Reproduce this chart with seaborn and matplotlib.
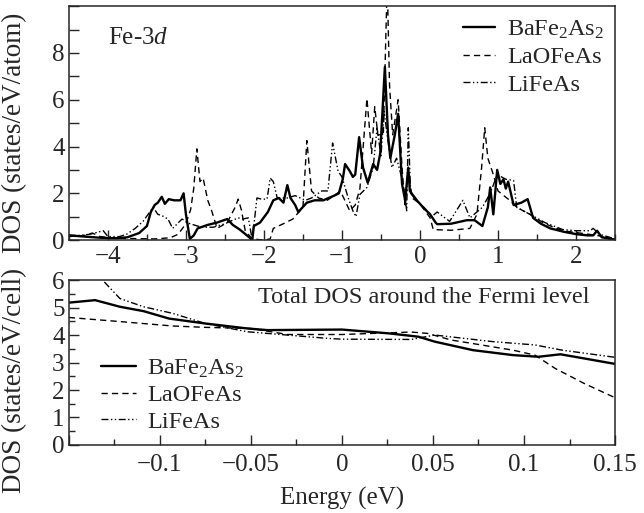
import numpy as np
import pandas as pd
import seaborn as sns
import matplotlib.pyplot as plt
from matplotlib.ticker import MultipleLocator, FuncFormatter

# Fe-3d partial DOS (top panel), energies in eV
ba_e = [-4.5, -4.3, -4.1, -3.9, -3.75, -3.6, -3.5, -3.45, -3.4, -3.36, -3.31, -3.27, -3.22, -3.15,
        -3.07, -3.03, -3.0, -2.95, -2.9, -2.85, -2.72, -2.6, -2.47, -2.4, -2.31, -2.2, -2.15, -2.13,
        -2.05, -1.95, -1.88, -1.81, -1.75, -1.7, -1.66, -1.6, -1.56, -1.45, -1.35, -1.24, -1.1, -1.04,
        -0.99, -0.96, -0.9, -0.86, -0.83, -0.78, -0.73, -0.67, -0.6, -0.55, -0.51, -0.45, -0.41, -0.38,
        -0.32, -0.28, -0.23, -0.19, -0.15, -0.13, -0.04, 0.04, 0.13, 0.2, 0.22, 0.4, 0.6, 0.7, 0.8,
        0.87, 0.9, 0.94, 0.99, 1.03, 1.07, 1.1, 1.13, 1.2, 1.3, 1.38, 1.45, 1.55, 1.67, 1.85, 2.01,
        2.15, 2.22, 2.27, 2.33, 2.5]
ba_dos = [0.2, 0.15, 0.1, 0.08, 0.12, 0.3, 0.6, 1.2, 1.5, 1.6, 1.85, 1.55, 1.75, 1.7,
          1.7, 2.0, 1.1, 0.05, 0.2, 0.5, 0.65, 0.75, 0.9, 0.65, 0.45, 0.15, 0.0, 0.6,
          0.75, 1.2, 1.7, 1.8, 1.6, 2.35, 1.8, 1.5, 1.2, 1.6, 1.7, 1.7, 1.9, 2.0,
          2.6, 3.25, 2.95, 2.7, 2.8, 4.4, 3.1, 2.45, 3.25, 3.0, 3.7, 7.4, 4.5, 3.5,
          4.55, 5.4, 2.4, 1.7, 3.1, 2.1, 1.7, 1.4, 1.1, 0.75, 0.68, 0.7, 0.85, 0.85, 0.6,
          1.4, 2.25, 1.1, 3.0, 2.4, 2.6, 2.2, 2.5, 1.5, 1.6, 1.75, 0.95, 0.7, 0.5, 0.35, 0.25,
          0.2, 0.2, 0.4, 0.12, 0.02]

la_e = [-4.5, -4.3, -4.2, -4.1, -3.9, -3.6, -3.4, -3.2, -3.1, -3.0, -2.94, -2.9, -2.86, -2.82,
        -2.78, -2.72, -2.67, -2.6, -2.47, -2.37, -2.33, -2.29, -2.24, -2.15, -2.0, -1.92, -1.88,
        -1.75, -1.63, -1.5, -1.45, -1.39, -1.3, -1.19, -1.1, -1.02, -0.9, -0.83, -0.77, -0.68,
        -0.62, -0.58, -0.54, -0.47, -0.42, -0.39, -0.35, -0.28, -0.23, -0.19, -0.15, -0.1, 0.0,
        0.13, 0.17, 0.4, 0.64, 0.73, 0.79, 0.83, 0.87, 0.94, 1.0, 1.15, 1.24, 1.41, 1.6, 1.83,
        2.05, 2.27, 2.5]
la_dos = [0.15, 0.2, 0.3, 0.15, 0.08, 0.06, 0.05, 0.1, 0.25, 0.7, 1.3, 2.2, 3.9, 2.5,
          2.65, 1.7, 1.25, 0.5, 0.75, 1.4, 1.75, 1.3, 0.4, 0.05, 0.0, 0.05, 0.5,
          0.7, 0.9, 1.4, 4.25, 2.1, 1.8, 1.7, 1.9, 2.1, 1.25, 1.5, 2.2, 6.05,
          3.7, 5.7, 4.5, 4.5, 11.0, 6.6, 4.5, 6.0, 3.1, 1.4, 2.95, 1.8, 1.55,
          0.95, 0.45, 0.42, 0.5, 1.1, 3.1, 4.8, 3.5, 2.8, 2.1, 1.7, 1.4, 1.1, 0.7, 0.4,
          0.3, 0.2, 0.02]

li_e = [-4.5, -4.35, -4.23, -4.06, -4.0, -3.85, -3.76, -3.65, -3.55, -3.42, -3.36, -3.31, -3.23,
        -3.17, -3.05, -2.95, -2.8, -2.65, -2.5, -2.4, -2.33, -2.27, -2.2, -2.15, -2.09, -2.03,
        -1.96, -1.92, -1.88, -1.83, -1.7, -1.6, -1.47, -1.39, -1.26, -1.18, -1.12, -1.05, -1.0,
        -0.92, -0.86, -0.82, -0.77, -0.68, -0.6, -0.55, -0.5, -0.46, -0.41, -0.36, -0.3, -0.22,
        -0.17, -0.15, -0.12, -0.05, 0.05, 0.15, 0.22, 0.38, 0.55, 0.64, 0.8, 0.9, 0.99, 1.1,
        1.2, 1.24, 1.41, 1.6, 1.83, 2.0, 2.18, 2.22, 2.3, 2.5]
li_dos = [0.2, 0.2, 0.25, 0.4, 0.15, 0.15, 0.25, 0.5, 0.8, 1.4, 1.1, 1.05, 0.9,
          0.5, 0.9, 0.7, 0.55, 0.55, 0.7, 0.85, 0.95, 0.9, 0.95, 0.0, 1.8, 1.75,
          1.75, 2.65, 2.5, 1.8, 1.8, 1.9, 1.7, 1.8, 2.1, 2.1, 4.15, 2.95, 2.7,
          1.8, 1.25, 1.0, 1.95, 2.25, 3.1, 4.8, 3.6, 5.5, 4.25, 3.1, 3.5, 2.5,
          1.25, 4.8, 2.0, 1.7, 1.4, 1.0, 1.2, 0.8, 1.7, 0.95, 1.4, 2.0, 2.8, 2.6,
          2.55, 1.4, 1.1, 0.75, 0.45, 0.4, 0.4, 0.5, 0.25, 0.05]

# total DOS near the Fermi level (bottom panel)
ba_tot_e = [-0.15, -0.1356, -0.122, -0.109, -0.095, -0.075, -0.052, -0.041, 0.0, 0.026, 0.042,
            0.051, 0.072, 0.094, 0.108, 0.12, 0.133, 0.15]
ba_tot = [5.18, 5.27, 5.03, 4.87, 4.6, 4.42, 4.24, 4.18, 4.2, 4.06, 3.94,
          3.76, 3.45, 3.27, 3.21, 3.3, 3.15, 2.95]
la_tot_e = [-0.15, -0.12, -0.093, -0.075, -0.05, -0.03, 0.0, 0.038, 0.047, 0.06, 0.094, 0.106,
            0.117, 0.133, 0.15]
la_tot = [4.64, 4.48, 4.33, 4.28, 4.24, 4.02, 4.02, 4.11, 4.06, 3.82, 3.45, 3.27,
          2.79, 2.24, 1.72]
li_tot_e = [-0.15, -0.14, -0.1315, -0.122, -0.109, -0.093, -0.075, -0.052, -0.03, -0.008, 0.0,
            0.038, 0.051, 0.083, 0.106, 0.121, 0.15]
li_tot = [7.3, 6.6, 6.0, 5.33, 5.03, 4.79, 4.42, 4.12, 4.0, 3.88, 3.85,
          3.84, 4.0, 3.76, 3.64, 3.45, 3.19]

labels = ["BaFe$_2$As$_2$", "LaOFeAs", "LiFeAs"]

sns.set_style("ticks")
plt.rcParams["font.family"] = ["Liberation Serif", "DejaVu Serif"]
plt.rcParams["mathtext.fontset"] = "custom"
plt.rcParams["mathtext.rm"] = "Liberation Serif"
plt.rcParams["mathtext.it"] = "Liberation Serif:italic"
plt.rcParams["axes.linewidth"] = 1.1
fs = 17.5

styles = [dict(linewidth=1.7, linestyle="-"),
          dict(linewidth=1.0, linestyle=(0, (4.5, 3))),
          dict(linewidth=1.0, linestyle=(0, (5, 1.8, 1, 1.8, 1, 1.8)))]

fig = plt.figure(figsize=(6.44, 5.13), dpi=100)
ax1 = fig.add_axes([0.107, 0.532, 0.848, 0.456])
ax2 = fig.add_axes([0.107, 0.1326, 0.848, 0.3214])

top = [(ba_e, ba_dos), (la_e, la_dos), (li_e, li_dos)]
for (e, d), lab, st in zip(top, labels, styles):
    df = pd.DataFrame({"E": e, "DOS": d})
    sns.lineplot(data=df, x="E", y="DOS", ax=ax1, color="black", label=lab,
                 estimator=None, **st)

bot = [(ba_tot_e, ba_tot), (la_tot_e, la_tot), (li_tot_e, li_tot)]
for (e, d), lab, st in zip(bot, labels, styles):
    df = pd.DataFrame({"E": e, "DOS": d})
    sns.lineplot(data=df, x="E", y="DOS", ax=ax2, color="black", label=lab,
                 estimator=None, **st)

ax1.set_xlim(-4.5, 2.5)
ax1.set_ylim(0, 10)
ax1.xaxis.set_major_locator(MultipleLocator(1))
ax1.xaxis.set_minor_locator(MultipleLocator(0.5))
ax1.yaxis.set_minor_locator(MultipleLocator(1))
ax1.set_yticks([0, 2, 4, 6, 8])
ax1.set_xlabel("")
ax1.set_ylabel("DOS (states/eV/atom)", fontsize=19.5)
ax1.yaxis.set_label_coords(-0.077, 0.46)
ax1.text(-4.0, 8.64, "Fe-3$d$", fontsize=18, ha="left", va="center")
ax1.legend(loc="center left", bbox_to_anchor=(0.722, 0.782), frameon=False, fontsize=fs,
           handlelength=1.3, handletextpad=0.5, labelspacing=0.22, borderpad=0, borderaxespad=0)

ax2.set_xlim(-0.15, 0.15)
ax2.set_ylim(0, 6)
ax2.xaxis.set_major_locator(MultipleLocator(0.05))
ax2.xaxis.set_minor_locator(MultipleLocator(0.025))
ax2.yaxis.set_major_locator(MultipleLocator(1))
ax2.yaxis.set_minor_locator(MultipleLocator(0.5))
ax2.xaxis.set_major_formatter(FuncFormatter(
    lambda v, p: "" if abs(v + 0.15) < 1e-6 else ("0" if abs(v) < 1e-9 else f"{v:g}".replace("-", "\u2212"))))
ax2.set_xlabel("Energy (eV)", fontsize=18, labelpad=8)
ax2.set_ylabel("DOS (states/eV/cell)", fontsize=19.5)
ax2.yaxis.set_label_coords(-0.077, 0.39)
ax2.text(0.045, 5.35, "Total DOS around the Fermi level", fontsize=fs, ha="center", va="center")
ax2.legend(loc="center left", bbox_to_anchor=(0.059, 0.303), frameon=False, fontsize=fs,
           handlelength=1.45, handletextpad=0.45, labelspacing=0.18, borderpad=0, borderaxespad=0)

for ax in (ax1, ax2):
    ax.tick_params(which="both", direction="in", top=False, right=False, labelsize=18)
    ax.tick_params(which="major", length=7, width=1.0)
    ax.tick_params(which="minor", length=4, width=1.0)
ax1.tick_params(axis="y", which="minor", length=7)
ax1.tick_params(axis="x", pad=4)
ax1.tick_params(axis="y", pad=3)
ax2.tick_params(axis="x", pad=6.5)
ax2.tick_params(axis="y", pad=3)

fig.savefig("out.png", dpi=100)
